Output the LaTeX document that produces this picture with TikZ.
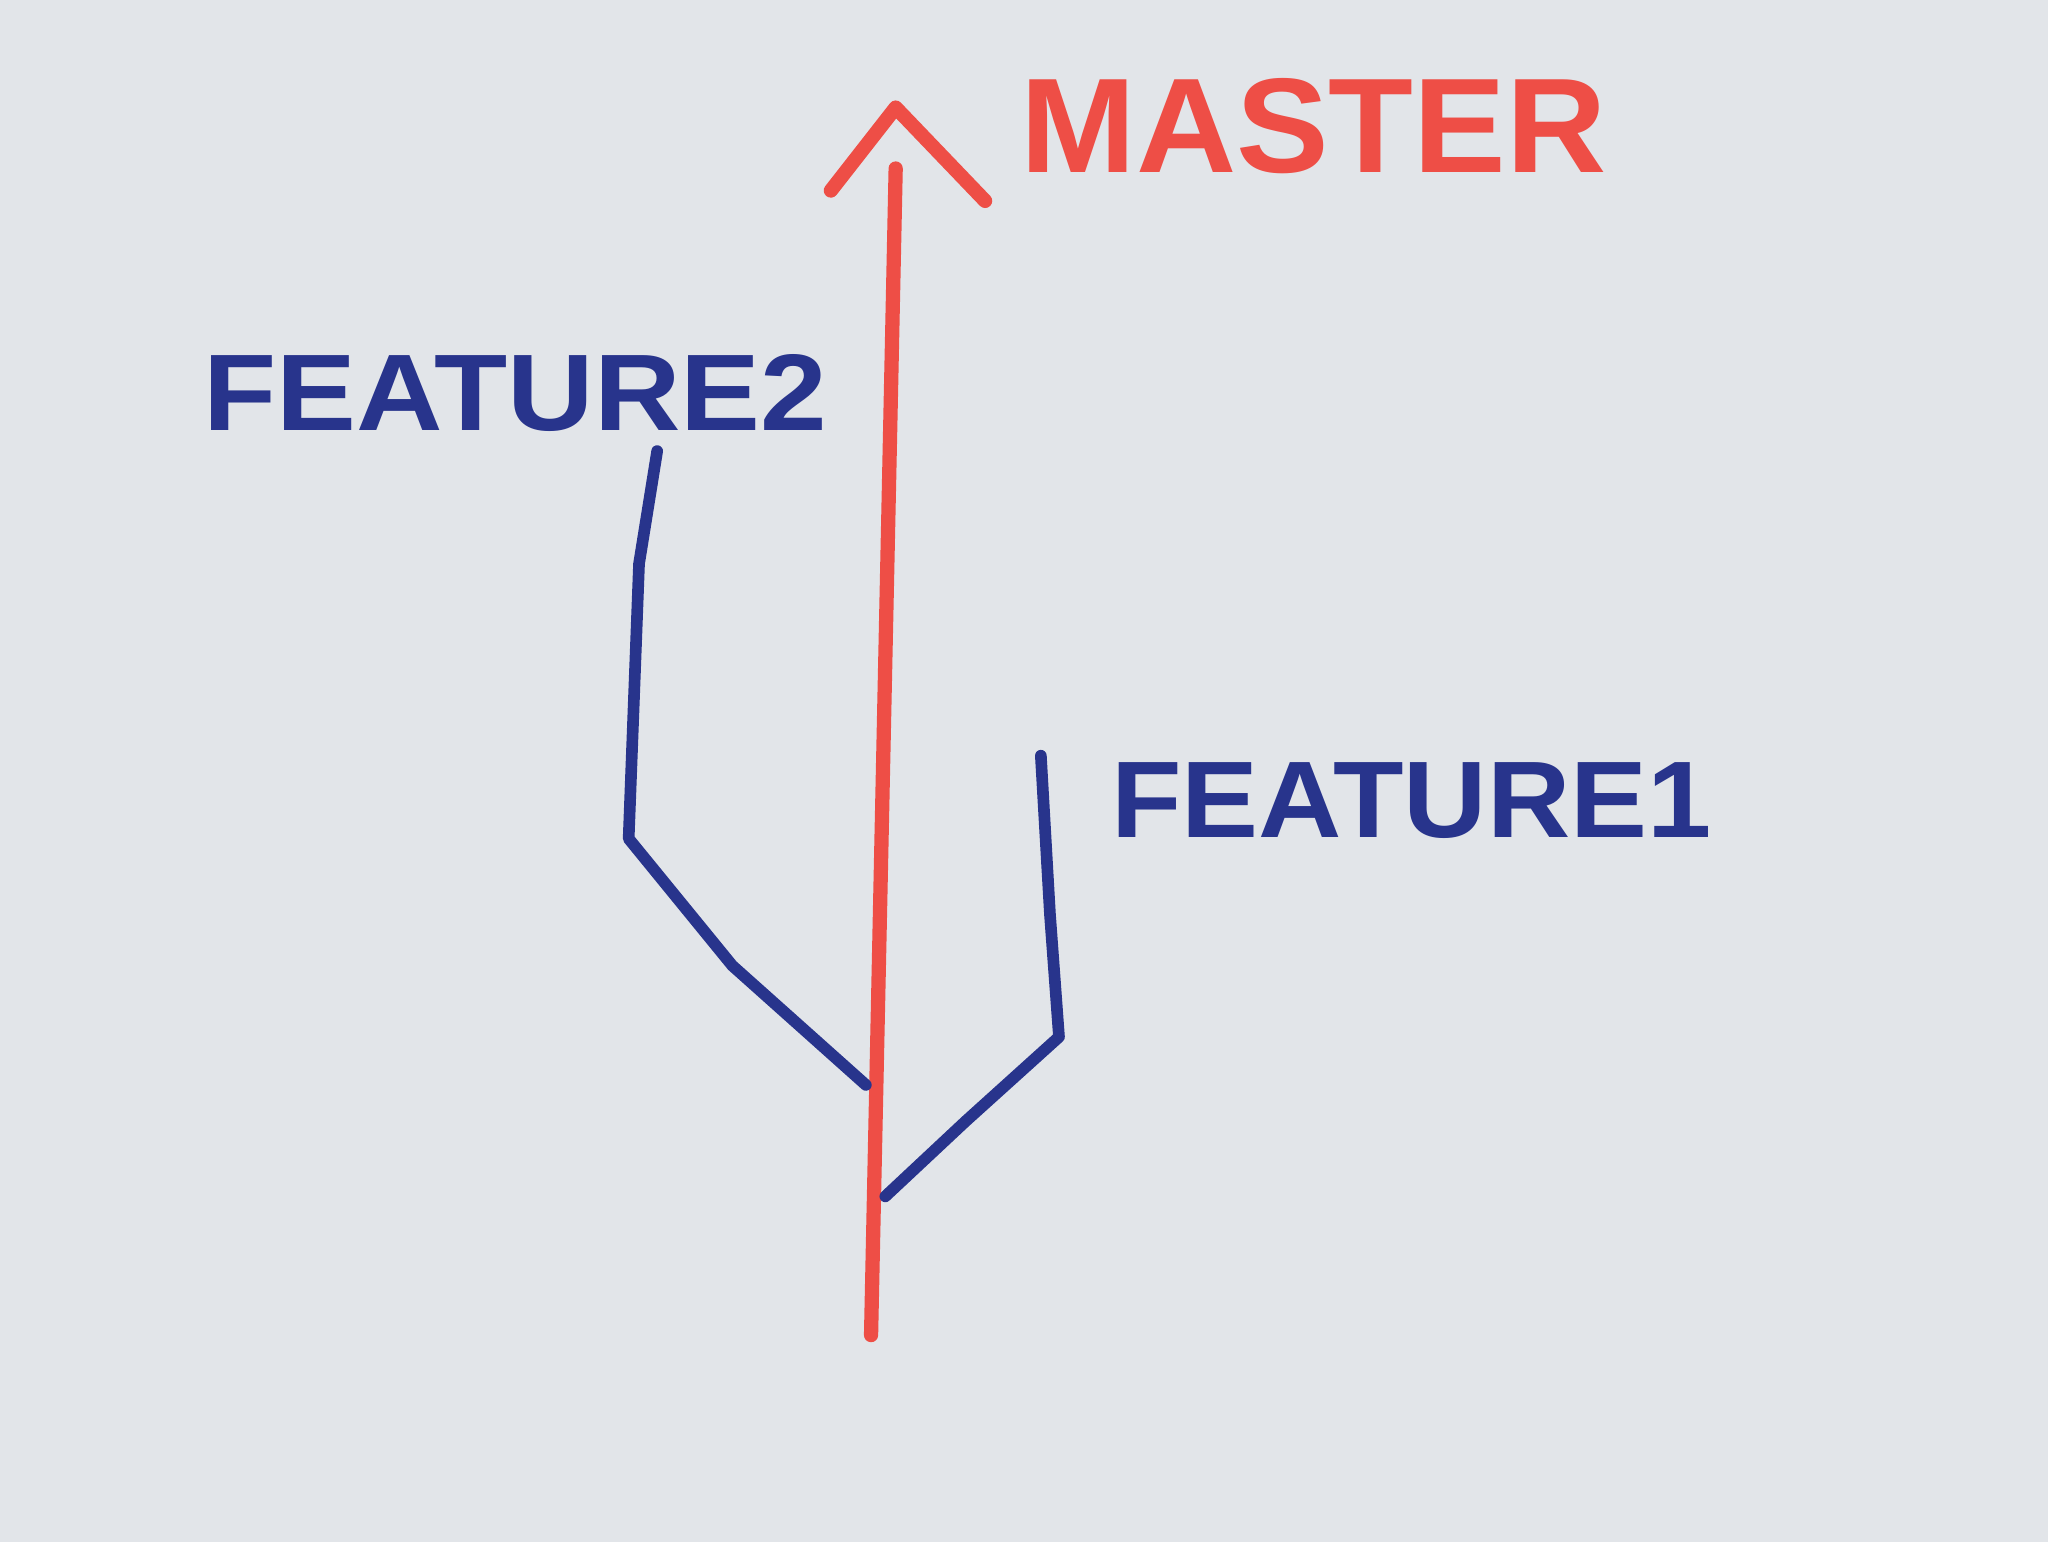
\documentclass[tikz,border=0pt]{standalone}
\usepackage{fontspec}
\setmainfont{Liberation Sans}
\definecolor{paper}{RGB}{226,229,233}
\definecolor{redpen}{RGB}{238,78,70}
\definecolor{bluepen}{RGB}{40,52,140}
\begin{document}
\begin{tikzpicture}[x=1pt,y=-1pt,
  redline/.style={draw=redpen,line width=11pt,line cap=round,line join=round},
  blueline/.style={draw=bluepen,line width=9pt,line cap=round,line join=round},
  lbl/.style={inner sep=0pt,anchor=west}]
\fill[paper] (-5,-5) rectangle (1575,1185);
\useasboundingbox (0,0) rectangle (1568,1176);
% master
\coordinate (mb) at (667,1025);
\coordinate (mt) at (686,125);
\coordinate (al) at (636,142);
\coordinate (ap) at (686,78);
\coordinate (ar) at (755,150);
\draw[redline] (mb) -- (mt);
\draw[redline] (al) -- (ap) -- (ar);
\node[lbl,text=redpen,font=\bfseries\fontsize{104}{104}\selectfont,xscale=1.03] (master) at (782,92) {MASTER};
% feature2
\node[lbl,text=bluepen,font=\bfseries\fontsize{84}{84}\selectfont,xscale=1.1] (f2) at (152,298) {FEATURE2};
\coordinate (a1) at (502,343);
\coordinate (a2) at (488,430);
\coordinate (a3) at (480,642);
\coordinate (a4) at (560,740);
\coordinate (a5) at (663,832);
\draw[blueline] (a1) -- (a2) -- (a3) -- (a4) -- (a5);
% feature1
\node[lbl,text=bluepen,font=\bfseries\fontsize{84}{84}\selectfont,xscale=1.06] (f1) at (852,613) {FEATURE1};
\coordinate (b1) at (798,578);
\coordinate (b2) at (805,700);
\coordinate (b3) at (812,795);
\coordinate (b4) at (740,860);
\coordinate (b5) at (678,918);
\draw[blueline] (b1) -- (b2) -- (b3) -- (b4) -- (b5);
\end{tikzpicture}
\end{document}
